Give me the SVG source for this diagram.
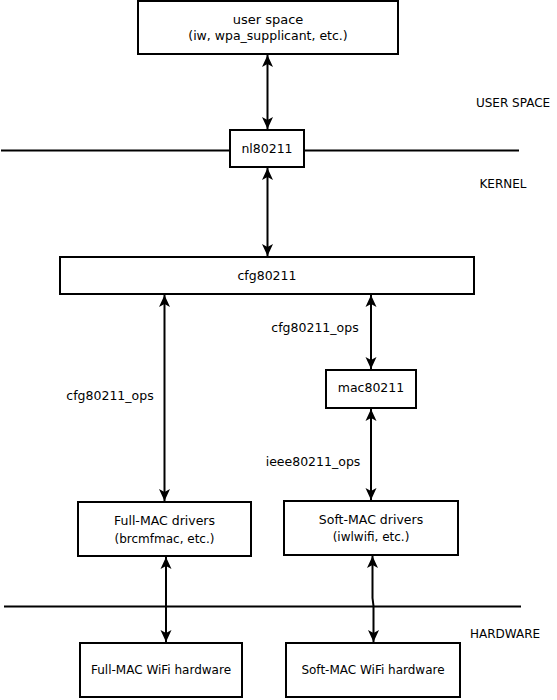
<svg xmlns="http://www.w3.org/2000/svg" width="557" height="700" viewBox="0 0 557 700">
<defs>
<marker id="ah" viewBox="-13 -7 14 14" refX="0" refY="0" markerWidth="14" markerHeight="14" markerUnits="userSpaceOnUse" orient="auto-start-reverse" overflow="visible">
<path d="M0,0 L-12,-5.5 L-9,0 L-12,5.5 Z" fill="#000"/>
</marker>
<style>
.box{fill:#fff;stroke:#000;stroke-width:2}
.t{font-family:"DejaVu Sans",sans-serif;font-size:12.5px;fill:#000;text-anchor:middle}
.s{font-size:12px}
.c{font-size:12px}
.conn{stroke:#000;stroke-width:2;fill:none;marker-start:url(#ah);marker-end:url(#ah)}
.sep{stroke:#000;stroke-width:2}
</style>
</defs>
<g id="separators">
<line class="sep" x1="1" y1="150.5" x2="519" y2="150.5"/>
<line class="sep" x1="4" y1="606.5" x2="521" y2="606.5"/>
</g>
<g id="layer-labels">
<text class="t c" x="513" y="107">USER SPACE</text>
<text class="t c" x="503" y="188">KERNEL</text>
<text class="t c" x="505" y="638">HARDWARE</text>
</g>
<g id="connectors">
<line class="conn" x1="267.5" y1="55" x2="267.5" y2="129"/>
<line class="conn" x1="267.5" y1="168" x2="267.5" y2="256"/>
<line class="conn" x1="164.5" y1="295" x2="164.5" y2="501"/>
<line class="conn" x1="371" y1="295" x2="371" y2="369"/>
<line class="conn" x1="371" y1="409" x2="371" y2="500"/>
<line class="conn" x1="166" y1="557" x2="166" y2="642"/>
<path class="conn" d="M372.5,556 L372.5,598 L373.5,606 L373.5,642"/>
<text class="t" x="315" y="332">cfg80211_ops</text>
<text class="t" x="110" y="400">cfg80211_ops</text>
<text class="t" x="313" y="466">ieee80211_ops</text>
</g>
<g id="user-space">
<rect class="box" x="138" y="1" width="260" height="53"/>
<text class="t" x="268" y="24" style="font-size:13px">user space</text>
<text class="t" x="268" y="40">(iw, wpa_supplicant, etc.)</text>
</g>
<g id="nl80211">
<rect class="box" x="230" y="130" width="74" height="37"/>
<text class="t" x="267" y="153">nl80211</text>
</g>
<g id="cfg80211">
<rect class="box" x="60" y="257" width="414" height="37"/>
<text class="t" x="267" y="280">cfg80211</text>
</g>
<g id="mac80211">
<rect class="box" x="326" y="370" width="90" height="38"/>
<text class="t" x="371" y="392">mac80211</text>
</g>
<g id="fullmac-drivers">
<rect class="box" x="78" y="502" width="173" height="54"/>
<text class="t" x="164.5" y="525">Full-MAC drivers</text>
<text class="t s" x="164.5" y="543">(brcmfmac, etc.)</text>
</g>
<g id="softmac-drivers">
<rect class="box" x="284" y="501" width="174" height="54"/>
<text class="t" x="371" y="524">Soft-MAC drivers</text>
<text class="t s" x="371" y="541">(iwlwifi, etc.)</text>
</g>
<g id="fullmac-hw">
<rect class="box" x="80" y="643" width="162" height="54"/>
<text class="t c" x="161" y="674">Full-MAC WiFi hardware</text>
</g>
<g id="softmac-hw">
<rect class="box" x="286" y="643" width="174" height="54"/>
<text class="t c" x="373" y="674">Soft-MAC WiFi hardware</text>
</g>
</svg>
